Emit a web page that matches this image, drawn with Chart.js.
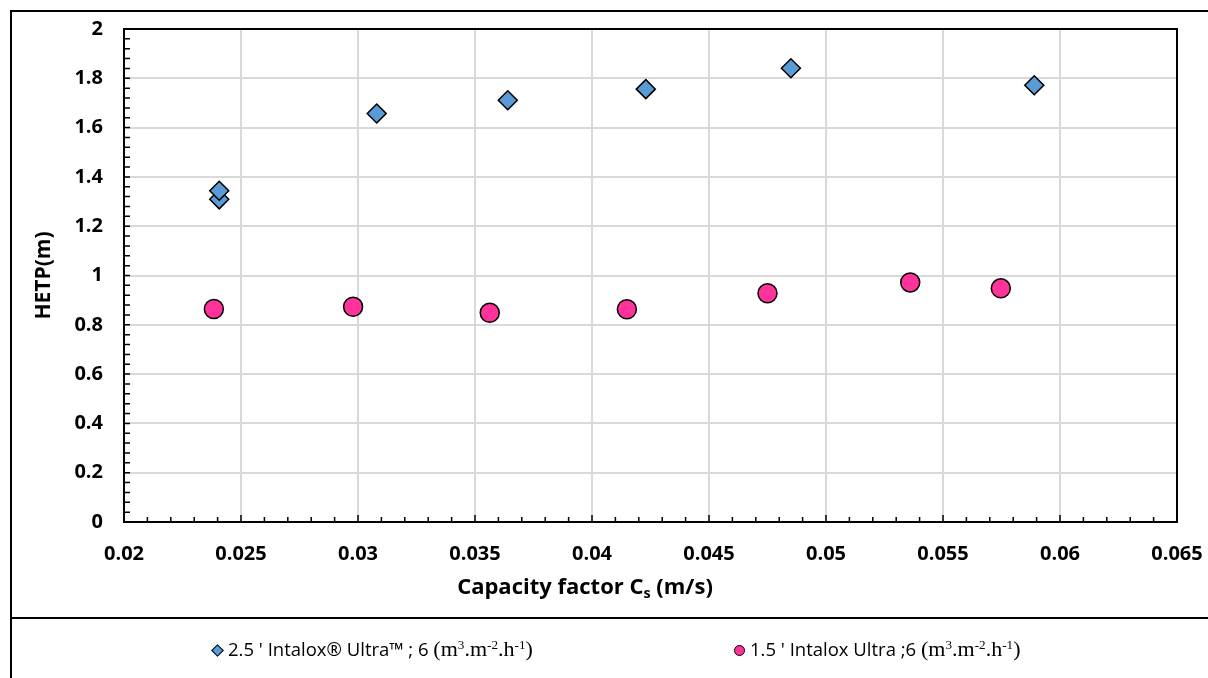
<!DOCTYPE html>
<html>
<head>
<meta charset="utf-8">
<script src="https://cdn.jsdelivr.net/npm/chart.js@4.4.1/dist/chart.umd.min.js"></script>
<style>
  body { margin: 0; background: #fff; width: 1208px; height: 678px; overflow: hidden; position: relative; font-family: "Open Sans", sans-serif; }
  #frame { position: absolute; left: 10px; top: 10px; width: 1230px; height: 700px; border: 2px solid #000; box-sizing: border-box; }
  #sep { position: absolute; left: 10px; top: 617px; width: 1230px; height: 2px; background: #000; }
  canvas { position: absolute; left: 0; top: 0; }
  #xtitle { position: absolute; top: 572px; left: 0; width: 1170px; text-align: center; font-weight: bold; font-size: 22px; line-height: 26px; color: #000; }
  #xtitle sub { font-size: 0.65em; line-height: 0; vertical-align: -0.3em; }
  .leg { position: absolute; top: 638px; font-size: 18.5px; line-height: 22px; white-space: nowrap; color: #000; }
  .serif { font-family: "Liberation Serif", serif; font-size: 22px; }
  .leg sup { font-size: 0.6em; line-height: 0; vertical-align: 0.55em; }
  .dia { display: inline-block; width: 7px; height: 7px; background: #5B9BD5; border: 1.5px solid #000; transform: rotate(45deg); margin: 0 6px 0 2px; vertical-align: 1px; }
  .dot { display: inline-block; width: 9px; height: 9px; border-radius: 50%; background: #FF3399; border: 1.5px solid #000; margin-right: 5px; vertical-align: 0px; }
</style>
</head>
<body>
<div id="frame"></div>
<div id="sep"></div>
<canvas id="chart" width="1208" height="678"></canvas>
<div id="xtitle">Capacity factor C<sub>s</sub> (m/s)</div>
<div id="legend"></div>
<script>
// series 1 : 2.5' Intalox Ultra (diamonds)
const diamondX = [0.02407, 0.02407, 0.0308, 0.0364, 0.0423, 0.0485, 0.0589];
const diamondY = [1.309, 1.344, 1.657, 1.711, 1.756, 1.841, 1.772];
// series 2 : 1.5' Intalox Ultra (circles)
const circleX = [0.02384, 0.02979, 0.03563, 0.04149, 0.0475, 0.0536, 0.05747];
const circleY = [0.864, 0.873, 0.849, 0.863, 0.928, 0.972, 0.948];

const seriesNames = ["2.5 ' Intalox\u00AE Ultra\u2122 ; 6 ", "1.5 ' Intalox Ultra ;6 "];
const unitHtml = '(m<sup>3</sup>.m<sup>-2</sup>.h<sup>-1</sup>)';

const xMin = 0.02, xMax = 0.065, xStep = 0.005;
const yMin = 0, yMax = 2, yStep = 0.2;

function toPoints(xs, ys) {
    return xs.map((x, i) => ({ x: x, y: ys[i] }));
}

// ticks inside the plot area + top/right frame
const innerTicks = {
    id: 'innerTicks',
    beforeDatasetsDraw(chart) {
        const c = chart.ctx;
        const a = chart.chartArea;
        const xs = chart.scales.x, ys = chart.scales.y;
        c.save();
        c.strokeStyle = '#000';
        c.lineWidth = 2;
        c.beginPath();
        c.moveTo(a.left, a.top);
        c.lineTo(a.right, a.top);
        c.lineTo(a.right, a.bottom);
        c.stroke();
        c.lineWidth = 1.5;
        c.beginPath();
        for (let i = 0; i <= 50; i++) {
            let py = ys.getPixelForValue(i * 0.04);
            c.moveTo(a.left, py);
            c.lineTo(a.left + 6, py);
        }
        for (let i = 0; i <= 45; i++) {
            let px = xs.getPixelForValue(xMin + i * 0.001);
            c.moveTo(px, a.bottom);
            c.lineTo(px, a.bottom - (i % 5 === 0 ? 7 : 5));
        }
        c.stroke();
        c.restore();
    }
};

const tickFont = { family: 'Open Sans', size: 20, weight: 'bold' };

const ctx = document.getElementById('chart');
const myChart = new Chart(ctx, {
    type: 'scatter',
    data: {
        datasets: [{
            label: seriesNames[0],
            data: toPoints(diamondX, diamondY),
            pointStyle: 'rectRot',
            pointRadius: 9.5,
            pointHoverRadius: 9.5,
            backgroundColor: '#5B9BD5',
            borderColor: '#000',
            borderWidth: 1.5,
        }, {
            label: seriesNames[1],
            data: toPoints(circleX, circleY),
            pointStyle: 'circle',
            pointRadius: 9.5,
            pointHoverRadius: 9.5,
            backgroundColor: '#FF3399',
            borderColor: '#000',
            borderWidth: 1.5,
        }]
    },
    options: {
        responsive: false,
        animation: false,
        layout: { padding: { left: 10, top: 29, right: 31, bottom: 0 } },
        plugins: {
            legend: { display: false },
            tooltip: { enabled: false },
        },
        scales: {
            x: {
                type: 'linear',
                min: xMin,
                max: xMax,
                afterFit(scale) {
                    scale.height = 156;
                    scale.paddingLeft = 0;
                    scale.paddingRight = 0;
                },
                ticks: {
                    stepSize: xStep,
                    padding: 20,
                    color: '#000',
                    font: tickFont,
                    callback: v => String(+v.toFixed(3)),
                },
                grid: { color: '#D9D9D9', lineWidth: 2, drawTicks: false },
                border: { color: '#000', width: 2 },
            },
            y: {
                min: yMin,
                max: yMax,
                afterFit(scale) {
                    scale.width = 114;
                    scale.paddingTop = 0;
                    scale.paddingBottom = 0;
                },
                ticks: {
                    stepSize: yStep,
                    padding: 21,
                    color: '#000',
                    font: tickFont,
                    callback: v => String(+v.toFixed(2)),
                },
                title: {
                    display: true,
                    text: 'HETP(m)',
                    color: '#000',
                    font: { family: 'Open Sans', size: 21, weight: 'bold' },
                    padding: { top: 21, bottom: 0 },
                },
                grid: { color: '#D9D9D9', lineWidth: 2, drawTicks: false },
                border: { color: '#000', width: 2 },
            }
        }
    },
    plugins: [innerTicks]
});

// legend
renderLegend();
function renderLegend() {
    const marks = ['<span class="dia"></span>', '<span class="dot"></span>'];
    const lefts = [211, 734];
    let html = '';
    myChart.data.datasets.forEach((ds, i) => {
        html += `<div class="leg" style="left:${lefts[i]}px">${marks[i]}${ds.label}<span class="serif">${unitHtml}</span></div>`;
    });
    document.getElementById('legend').innerHTML = html;
}
</script>
</body>
</html>
